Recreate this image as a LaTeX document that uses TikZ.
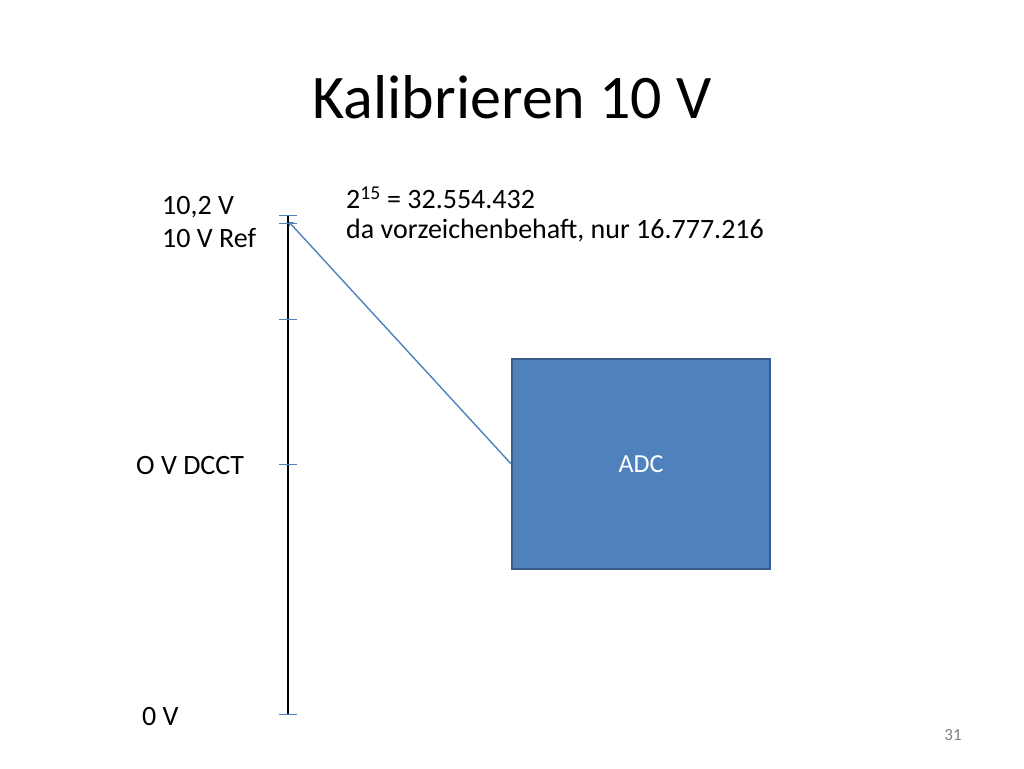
\documentclass[tikz,border=0pt]{standalone}
\usepackage{fontspec}
\setmainfont{Carlito}
\begin{document}
\begin{tikzpicture}[x=1pt,y=-1pt,
  tick/.style={draw=blue!50!gray!80, line width=0.8pt},
  lbl/.style={anchor=west, inner sep=0pt, font=\fontsize{28}{34}\selectfont}]
\useasboundingbox (0,0) rectangle (1024,768);
\node (title) at (512,97) {\fontsize{62}{70}\selectfont Kalibrieren 10 V};
\coordinate (top) at (288,215);
\coordinate (bot) at (288,714);
\draw[line width=1.6pt] (top) -- (bot);
\foreach \y in {215,223,319,464,714} \draw[tick,color={rgb,255:red,79;green,129;blue,189}] (279,\y) -- (297,\y);
\node[lbl] (l1) at (162,207) {10,2 V};
\node[lbl] (l2) at (162,238) {10 V Ref};
\node[lbl] (l3) at (136,466) {O V DCCT};
\node[lbl] (l4) at (142,716) {0 V};
\node[lbl] (f1) at (346,198) {2\textsuperscript{15} = 32.554.432};
\node[lbl] (f2) at (346,231) {da vorzeichenbehaft, nur 16.777.216};
\node[draw={rgb,255:red,56;green,93;blue,138}, line width=1.6pt, fill={rgb,255:red,79;green,129;blue,189},
  minimum width=258pt, minimum height=210pt, text=white, font=\fontsize{26}{30}\selectfont] (adc) at (641,464) {ADC};
\draw[draw={rgb,255:red,79;green,129;blue,189}, line width=1.4pt, ->] (adc.west) -- (289,222);
\node (pg) at (953,735) {\fontsize{17}{20}\selectfont\color{gray}31};
\end{tikzpicture}
\end{document}
